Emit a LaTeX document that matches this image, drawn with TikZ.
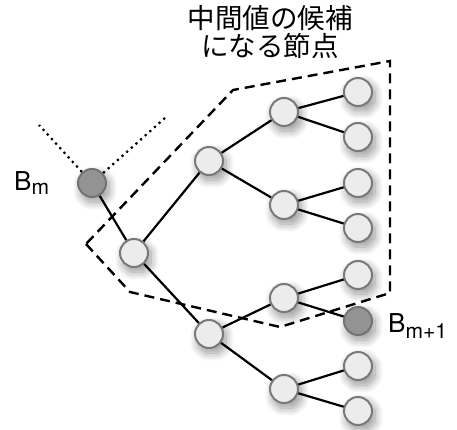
\documentclass[tikz,border=0pt]{standalone}
\usepackage{fontspec}
\setmainfont{TeX Gyre Heros}
\newfontfamily\jpfont{Noto Sans CJK JP}
\usetikzlibrary{shadows.blur}
\begin{document}
\begin{tikzpicture}[x=1pt,y=-1pt,
  nd/.style={circle,minimum size=28pt,inner sep=0pt,draw=gray!95!black,line width=2pt,
    fill=gray!15,blur shadow={shadow xshift=3pt,shadow yshift=-5pt,shadow blur steps=12,shadow blur radius=8pt,shadow blur extra rounding=6pt,shadow opacity=40}},
  dk/.style={nd,fill=gray!85,draw=gray!90!black},
  edge/.style={line width=2.2pt,black},
  dotline/.style={line width=2.2pt,dash pattern=on 2.2pt off 4pt},
  dashline/.style={line width=2.4pt,dash pattern=on 10pt off 6pt},
  lab/.style={font=\fontsize{26}{28}\selectfont,inner sep=0pt}
]
\useasboundingbox (0,0) rectangle (457,430);
% dashed region
\draw[dashline] (86,244) -- (130,292) -- (280,327) -- (390,293) -- (390,61) -- (233,90) -- cycle;
% nodes
\node[dk] (bm) at (92,183) {};
\node[nd] (a) at (134,253) {};
\node[nd] (b) at (209,161) {};
\node[nd] (c) at (284,112) {};
\node[nd] (c1) at (358,92) {};
\node[nd] (c2) at (358,137) {};
\node[nd] (d) at (284,205) {};
\node[nd] (d1) at (358,183) {};
\node[nd] (d2) at (358,228) {};
\node[nd] (e) at (209,334) {};
\node[nd] (f) at (284,298) {};
\node[nd] (f1) at (358,275) {};
\node[dk] (bm1) at (358,321) {};
\node[nd] (g) at (284,389) {};
\node[nd] (g1) at (358,366) {};
\node[nd] (g2) at (358,411) {};
% edges
\draw[edge] (bm) -- (a);
\draw[edge] (a) -- (b);
\draw[edge] (b) -- (c);
\draw[edge] (c) -- (c1);
\draw[edge] (c) -- (c2);
\draw[edge] (b) -- (d);
\draw[edge] (d) -- (d1);
\draw[edge] (d) -- (d2);
\draw[edge] (a) -- (e);
\draw[edge] (e) -- (f);
\draw[edge] (f) -- (f1);
\draw[edge] (f) -- (bm1);
\draw[edge] (e) -- (g);
\draw[edge] (g) -- (g1);
\draw[edge] (g) -- (g2);
% dotted
\coordinate (p1) at (39,125);
\coordinate (p2) at (166,117);
\draw[dotline] (bm) -- (p1);
\draw[dotline] (bm) -- (p2);
% labels
\node[lab,anchor=base west] (lbm) at (14,191) {B\textsubscript{\fontsize{21}{21}\selectfont m}};
\node[lab,anchor=base west] (lbm1) at (388,332) {B\textsubscript{\fontsize{21}{21}\selectfont m+1}};
\node[lab,font=\jpfont\fontsize{27.5}{28}\selectfont,align=center] (title) at (270,32) {中間値の候補\\になる節点};
\end{tikzpicture}
\end{document}
